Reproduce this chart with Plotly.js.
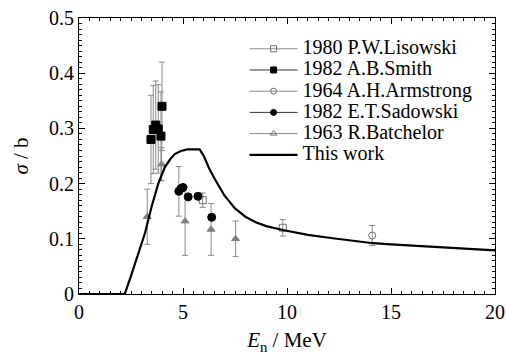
<!DOCTYPE html>
<html>
<head>
<meta charset="utf-8">
<script src="https://cdn.plot.ly/plotly-3.0.1.min.js"></script>
<style>html,body{margin:0;padding:0;background:#fff;}#chart{width:506px;height:356px;}</style>
</head>
<body>
<div id="chart"></div>
<script>
// Experimental data (E in MeV, sigma in b)
const lisowskiE = [5.95, 9.8];
const lisowskiS = [0.170, 0.120];
const lisowskiErr = [0.013, 0.015];

const smithE = [3.46, 3.57, 3.69, 3.81, 3.94, 3.99];
const smithS = [0.280, 0.298, 0.306, 0.299, 0.286, 0.340];
const smithErr = [0.08, 0.08, 0.08, 0.08, 0.08, 0.08];

const armstrongE = [14.1];
const armstrongS = [0.106];
const armstrongErr = [0.018];

const sadowskiE = [4.8, 4.9, 5.0, 5.25, 5.72, 6.38];
const sadowskiS = [0.186, 0.191, 0.193, 0.176, 0.177, 0.139];
const sadowskiErr = [0.045, 0, 0, 0, 0, 0];

const batchelorE = [3.28, 3.97, 5.1, 6.35, 7.53];
const batchelorS = [0.140, 0.235, 0.132, 0.117, 0.100];
const batchelorErr = [0.05, 0.03, 0.062, 0.047, 0.032];

// This work (evaluated curve)
const workE = [0, 2.2, 2.5, 2.85, 3.17, 3.49, 3.81, 4.13, 4.4, 4.62, 4.9, 5.2, 5.5, 5.8, 6.0, 6.25, 6.5, 7.0, 7.5, 8.0, 8.5, 9.0, 9.8, 11, 12.2, 13, 14.15, 15, 17, 18.5, 20];
const workS = [0, 0, 0.033, 0.074, 0.110, 0.158, 0.200, 0.230, 0.245, 0.254, 0.259, 0.262, 0.262, 0.262, 0.250, 0.228, 0.210, 0.178, 0.155, 0.140, 0.130, 0.123, 0.116, 0.107, 0.101, 0.097, 0.092, 0.090, 0.086, 0.083, 0.079];

const xTicks = [0, 5, 10, 15, 20];
const yTicks = [0, 0.1, 0.2, 0.3, 0.4, 0.5];
const yTickText = ['0', '0.1', '0.2', '0.3', '0.4', '0.5'];

const names = ['1980 P.W.Lisowski', '1982 A.B.Smith', '1964 A.H.Armstrong', '1982 E.T.Sadowski', '1963 R.Batchelor', 'This work'];

const gray = '#8a8a8a';
const serif = 'Liberation Serif';

function errTrace(x, y, e, sym, col, size) {
  return {
    x: x, y: y, type: 'scatter', mode: 'markers', showlegend: false,
    marker: {symbol: sym, size: size, color: col, line: {color: col, width: 1}},
    error_y: {type: 'data', array: e, visible: true, color: gray, thickness: 1, width: 3}
  };
}
function sz(t, s) { return '<span style="font-size:' + s + 'px">' + t + '</span>'; }
function legTrace(name, sym, col, size, lc) {
  return {
    x: [null], y: [null], type: 'scatter', mode: 'lines+markers', name: sz(name, 20),
    marker: {symbol: sym, size: size, color: col, line: {color: col, width: 1}},
    line: {color: lc, width: 1}
  };
}

const data = [
  errTrace(batchelorE, batchelorS, batchelorErr, 'triangle-up', '#808080', 7),
  errTrace(lisowskiE, lisowskiS, lisowskiErr, 'square-open', '#707070', 7),
  errTrace(armstrongE, armstrongS, armstrongErr, 'circle-open', '#707070', 7),
  errTrace(smithE, smithS, smithErr, 'square', '#000', 8),
  errTrace(sadowskiE, sadowskiS, sadowskiErr, 'circle', '#000', 8),
  {x: workE, y: workS, type: 'scatter', mode: 'lines', showlegend: false,
   line: {color: '#000', width: 2.2}},
  legTrace(names[0], 'square-open', '#707070', 6, gray),
  legTrace(names[1], 'square', '#000', 6, '#333'),
  legTrace(names[2], 'circle-open', '#707070', 6, gray),
  legTrace(names[3], 'circle', '#000', 6, '#333'),
  legTrace(names[4], 'triangle-up-open', '#707070', 6, gray),
  {x: [null], y: [null], type: 'scatter', mode: 'lines', name: sz(names[5], 20), line: {color: '#000', width: 2.2}}
];

const axisCommon = {
  showgrid: false, zeroline: false, showline: true, linecolor: '#000', linewidth: 1,
  mirror: 'allticks', ticks: 'inside', ticklen: 6, tickwidth: 1, tickcolor: '#000',
  tickfont: {family: serif, size: 20, color: '#000'}
};

const layout = {
  width: 506, height: 356,
  margin: {l: 79, r: 11, t: 18, b: 62},
  paper_bgcolor: '#fff', plot_bgcolor: '#fff',
  font: {family: serif, color: '#000'},
  showlegend: true,
  legend: {x: 0.398, y: 0.945, xanchor: 'left', yanchor: 'top', bgcolor: 'rgba(0,0,0,0)',
           itemwidth: 48, font: {family: serif, size: 14, color: '#000'}, tracegroupgap: 0},
  xaxis: Object.assign({}, axisCommon, {
    range: [0, 20], tickvals: xTicks,
    minor: {dtick: 0.5, ticks: 'inside', ticklen: 3, tickcolor: '#000'},
    title: {text: '<i>E</i><sub>n</sub> / MeV', font: {family: serif, size: 21, color: '#000'}, standoff: 10}
  }),
  yaxis: Object.assign({}, axisCommon, {
    range: [0, 0.5], tickvals: yTicks, ticktext: yTickText,
    minor: {dtick: 0.01, ticks: 'inside', ticklen: 3, tickcolor: '#000'},
    title: {text: '<i>σ</i> / b', font: {family: serif, size: 21, color: '#000'}, standoff: 14}
  })
};

Plotly.newPlot('chart', data, layout, {staticPlot: true});
</script>
</body>
</html>
